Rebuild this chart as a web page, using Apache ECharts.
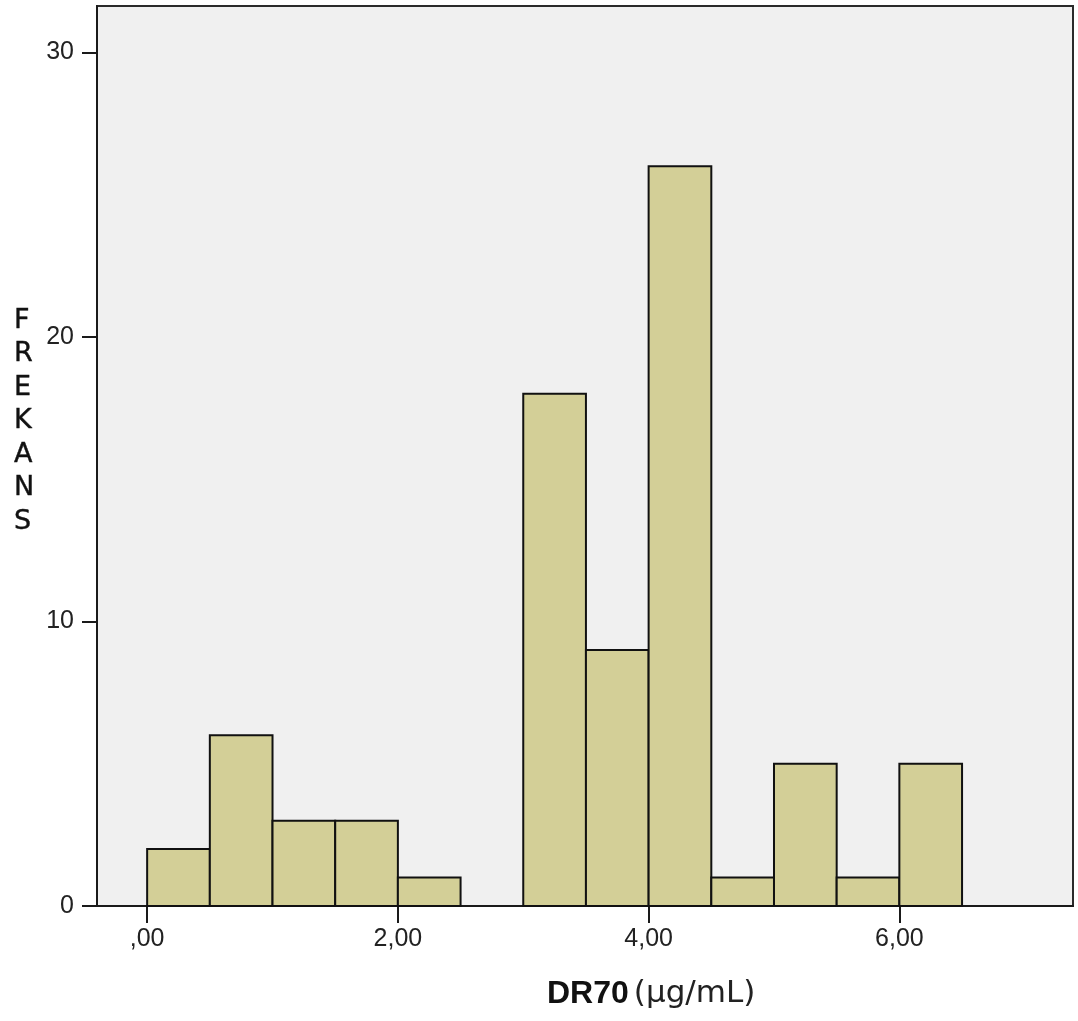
<!DOCTYPE html>
<html>
<head>
<meta charset="utf-8">
<script src="https://cdn.jsdelivr.net/npm/echarts@6/dist/echarts.min.js"></script>
<style>html,body{margin:0;padding:0;background:#fff;}#c{width:1078px;height:1021px;}</style>
</head>
<body>
<div id="c"></div>
<script>
const binStarts = [0, 0.5, 1, 1.5, 2, 2.5, 3, 3.5, 4, 4.5, 5, 5.5, 6];
const binWidth = 0.5;
const counts = [2, 6, 3, 3, 1, 0, 18, 9, 26, 1, 5, 1, 5];
const xTicks = [0, 2, 4, 6];
const yTicks = [0, 10, 20, 30];
const yTitle = 'FREKANS';
const xTitleBold = 'DR70';
const xTitleUnit = '(µg/mL)';

const data = binStarts.map((s, i) => [s, s + binWidth, counts[i]]).filter(d => d[2] > 0);
const fmt = v => {
  const s = v.toFixed(2).replace('.', ',');
  return s.startsWith('0,') ? s.slice(1) : s;
};
const tickFont = "'Liberation Sans Narrow', 'Liberation Sans', sans-serif";
const chart = echarts.init(document.getElementById('c'));
chart.setOption({
  animation: false,
  backgroundColor: '#ffffff',
  title: [
    {
      text: yTitle.split('').join('\n'),
      left: 9, top: 299,
      textStyle: { fontFamily: 'DejaVu Sans', fontSize: 27, fontWeight: 'normal', color: '#111', lineHeight: 33.5, align: 'center', textBorderColor: '#111', textBorderWidth: 0.4 }
    },
    {
      text: '{b|' + xTitleBold + '} {r|' + xTitleUnit + '}',
      left: 542, top: 973,
      textStyle: {
        rich: {
          b: { fontFamily: 'Liberation Sans', fontSize: 32, fontWeight: 'bold', color: '#111' },
          r: { fontFamily: 'DejaVu Sans', fontSize: 31, fontWeight: 'normal', color: '#222' }
        }
      }
    }
  ],
  grid: { left: 97, right: 5, top: 6, bottom: 115, show: true, backgroundColor: '#f0f0f0', borderColor: '#2a2a2a', borderWidth: 2 },
  xAxis: {
    type: 'value', min: -0.4, max: 7.385,
    axisLine: { show: true, onZero: false, lineStyle: { color: '#1a1a1a', width: 2 } },
    axisTick: { show: true, length: 17, customValues: xTicks, lineStyle: { color: '#1a1a1a', width: 2 } },
    axisLabel: { customValues: xTicks, formatter: fmt, margin: 21, fontFamily: tickFont, fontSize: 25, color: '#222' },
    splitLine: { show: false }
  },
  yAxis: {
    type: 'value', min: 0, max: 31.63, interval: 10,
    axisLine: { show: true, onZero: false, lineStyle: { color: '#1a1a1a', width: 2 } },
    axisTick: { show: true, length: 15, customValues: yTicks, lineStyle: { color: '#1a1a1a', width: 2 } },
    axisLabel: { customValues: yTicks, margin: 23, fontFamily: tickFont, fontSize: 25, color: '#222' },
    splitLine: { show: false }
  },
  series: [{
    type: 'custom',
    data: data,
    encode: { x: [0, 1], y: 2 },
    renderItem: function (params, api) {
      const p0 = api.coord([api.value(0), api.value(2)]);
      const p1 = api.coord([api.value(1), 0]);
      return {
        type: 'rect',
        shape: { x: p0[0], y: p0[1], width: p1[0] - p0[0], height: p1[1] - p0[1] },
        style: { fill: '#d3cf97', stroke: '#111', lineWidth: 2 }
      };
    }
  }]
});
</script>
</body>
</html>
